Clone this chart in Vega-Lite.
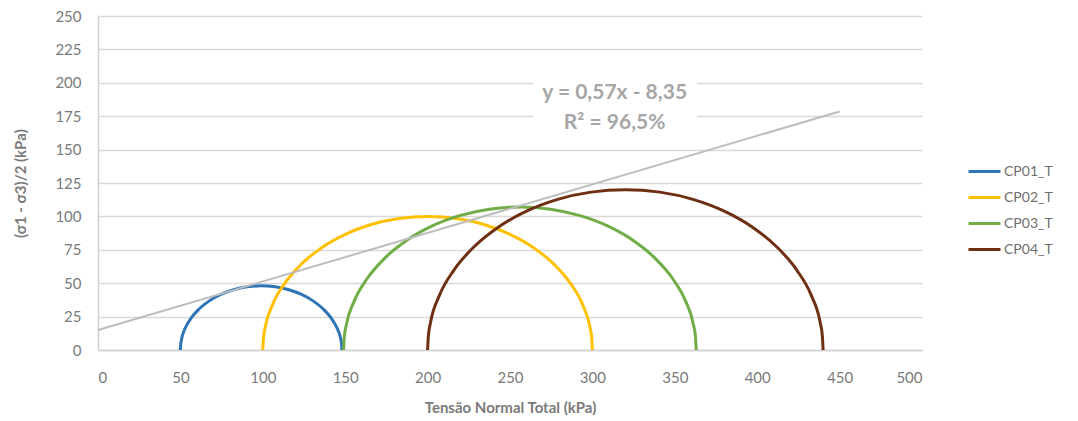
{
  "$schema": "https://vega.github.io/schema/vega-lite/v6.json",
  "width": 824,
  "height": 334,
  "autosize": {"type": "none"},
  "padding": {"left": 98, "top": 16, "right": 156, "bottom": 71},
  "background": "white",
  "config": {
    "view": {"stroke": null},
    "font": "Lato",
    "axis": {
      "gridColor": "#D9D9D9",
      "gridWidth": 1.5,
      "domainColor": "#D0D0D0",
      "domainWidth": 1.5,
      "ticks": false,
      "labelColor": "#7A7A7A",
      "labelFontSize": 15,
      "labelFont": "Lato",
      "titleColor": "#7A7A7A",
      "titleFontSize": 15,
      "titleFont": "Lato",
      "titleFontWeight": "bold"
    }
  },
  "datasets": {
    "circles": [
      {"serie": "CP01_T", "i": 0, "x": 50, "y": 0},
      {"serie": "CP01_T", "i": 1, "x": 50.19, "y": 4.19},
      {"serie": "CP01_T", "i": 2, "x": 50.74, "y": 8.33},
      {"serie": "CP01_T", "i": 3, "x": 52.95, "y": 16.42},
      {"serie": "CP01_T", "i": 4, "x": 56.57, "y": 24},
      {"serie": "CP01_T", "i": 5, "x": 61.47, "y": 30.85},
      {"serie": "CP01_T", "i": 6, "x": 67.5, "y": 36.77},
      {"serie": "CP01_T", "i": 7, "x": 74.5, "y": 41.57},
      {"serie": "CP01_T", "i": 8, "x": 82.24, "y": 45.11},
      {"serie": "CP01_T", "i": 9, "x": 90.49, "y": 47.27},
      {"serie": "CP01_T", "i": 10, "x": 99, "y": 48},
      {"serie": "CP01_T", "i": 11, "x": 107.51, "y": 47.27},
      {"serie": "CP01_T", "i": 12, "x": 115.76, "y": 45.11},
      {"serie": "CP01_T", "i": 13, "x": 123.5, "y": 41.57},
      {"serie": "CP01_T", "i": 14, "x": 130.5, "y": 36.77},
      {"serie": "CP01_T", "i": 15, "x": 136.53, "y": 30.85},
      {"serie": "CP01_T", "i": 16, "x": 141.43, "y": 24},
      {"serie": "CP01_T", "i": 17, "x": 145.05, "y": 16.42},
      {"serie": "CP01_T", "i": 18, "x": 147.26, "y": 8.33},
      {"serie": "CP01_T", "i": 19, "x": 147.81, "y": 4.19},
      {"serie": "CP01_T", "i": 20, "x": 148, "y": 0},

      {"serie": "CP02_T", "i": 0, "x": 100, "y": 0},
      {"serie": "CP02_T", "i": 1, "x": 100.38, "y": 8.72},
      {"serie": "CP02_T", "i": 2, "x": 101.52, "y": 17.36},
      {"serie": "CP02_T", "i": 3, "x": 106.03, "y": 34.2},
      {"serie": "CP02_T", "i": 4, "x": 113.4, "y": 50},
      {"serie": "CP02_T", "i": 5, "x": 123.4, "y": 64.28},
      {"serie": "CP02_T", "i": 6, "x": 135.72, "y": 76.6},
      {"serie": "CP02_T", "i": 7, "x": 150, "y": 86.6},
      {"serie": "CP02_T", "i": 8, "x": 165.8, "y": 93.97},
      {"serie": "CP02_T", "i": 9, "x": 182.64, "y": 98.48},
      {"serie": "CP02_T", "i": 10, "x": 200, "y": 100},
      {"serie": "CP02_T", "i": 11, "x": 217.36, "y": 98.48},
      {"serie": "CP02_T", "i": 12, "x": 234.2, "y": 93.97},
      {"serie": "CP02_T", "i": 13, "x": 250, "y": 86.6},
      {"serie": "CP02_T", "i": 14, "x": 264.28, "y": 76.6},
      {"serie": "CP02_T", "i": 15, "x": 276.6, "y": 64.28},
      {"serie": "CP02_T", "i": 16, "x": 286.6, "y": 50},
      {"serie": "CP02_T", "i": 17, "x": 293.97, "y": 34.2},
      {"serie": "CP02_T", "i": 18, "x": 298.48, "y": 17.36},
      {"serie": "CP02_T", "i": 19, "x": 299.62, "y": 8.72},
      {"serie": "CP02_T", "i": 20, "x": 300, "y": 0},

      {"serie": "CP03_T", "i": 0, "x": 149, "y": 0},
      {"serie": "CP03_T", "i": 1, "x": 149.41, "y": 9.33},
      {"serie": "CP03_T", "i": 2, "x": 150.63, "y": 18.58},
      {"serie": "CP03_T", "i": 3, "x": 155.45, "y": 36.59},
      {"serie": "CP03_T", "i": 4, "x": 163.34, "y": 53.5},
      {"serie": "CP03_T", "i": 5, "x": 174.04, "y": 68.78},
      {"serie": "CP03_T", "i": 6, "x": 187.22, "y": 81.96},
      {"serie": "CP03_T", "i": 7, "x": 202.5, "y": 92.66},
      {"serie": "CP03_T", "i": 8, "x": 219.41, "y": 100.55},
      {"serie": "CP03_T", "i": 9, "x": 237.42, "y": 105.37},
      {"serie": "CP03_T", "i": 10, "x": 256, "y": 107},
      {"serie": "CP03_T", "i": 11, "x": 274.58, "y": 105.37},
      {"serie": "CP03_T", "i": 12, "x": 292.59, "y": 100.55},
      {"serie": "CP03_T", "i": 13, "x": 309.5, "y": 92.66},
      {"serie": "CP03_T", "i": 14, "x": 324.78, "y": 81.96},
      {"serie": "CP03_T", "i": 15, "x": 337.96, "y": 68.78},
      {"serie": "CP03_T", "i": 16, "x": 348.66, "y": 53.5},
      {"serie": "CP03_T", "i": 17, "x": 356.55, "y": 36.59},
      {"serie": "CP03_T", "i": 18, "x": 361.37, "y": 18.58},
      {"serie": "CP03_T", "i": 19, "x": 362.59, "y": 9.33},
      {"serie": "CP03_T", "i": 20, "x": 363, "y": 0},

      {"serie": "CP04_T", "i": 0, "x": 200, "y": 0},
      {"serie": "CP04_T", "i": 1, "x": 200.46, "y": 10.46},
      {"serie": "CP04_T", "i": 2, "x": 201.82, "y": 20.84},
      {"serie": "CP04_T", "i": 3, "x": 207.24, "y": 41.04},
      {"serie": "CP04_T", "i": 4, "x": 216.08, "y": 60},
      {"serie": "CP04_T", "i": 5, "x": 228.08, "y": 77.14},
      {"serie": "CP04_T", "i": 6, "x": 242.86, "y": 91.92},
      {"serie": "CP04_T", "i": 7, "x": 260, "y": 103.92},
      {"serie": "CP04_T", "i": 8, "x": 278.96, "y": 112.76},
      {"serie": "CP04_T", "i": 9, "x": 299.16, "y": 118.18},
      {"serie": "CP04_T", "i": 10, "x": 320, "y": 120},
      {"serie": "CP04_T", "i": 11, "x": 340.84, "y": 118.18},
      {"serie": "CP04_T", "i": 12, "x": 361.04, "y": 112.76},
      {"serie": "CP04_T", "i": 13, "x": 380, "y": 103.92},
      {"serie": "CP04_T", "i": 14, "x": 397.14, "y": 91.92},
      {"serie": "CP04_T", "i": 15, "x": 411.92, "y": 77.14},
      {"serie": "CP04_T", "i": 16, "x": 423.92, "y": 60},
      {"serie": "CP04_T", "i": 17, "x": 432.76, "y": 41.04},
      {"serie": "CP04_T", "i": 18, "x": 438.18, "y": 20.84},
      {"serie": "CP04_T", "i": 19, "x": 439.54, "y": 10.46},
      {"serie": "CP04_T", "i": 20, "x": 440, "y": 0}
    ],
    "trend": [
      {"x": 0, "y": 15},
      {"x": 450, "y": 178.5}
    ],
    "labelbox": [
      {"x": 264, "x2": 363.5, "y": 156, "y2": 205}
    ],
    "labels": [
      {"x": 313.5, "y": 192.5, "text": "y = 0,57x - 8,35"},
      {"x": 313.5, "y": 170, "text": "R² = 96,5%"}
    ]
  },
  "encoding": {
    "x": {
      "field": "x", "type": "quantitative",
      "scale": {"domain": [0, 500], "nice": false},
      "axis": {
        "title": "Tensão Normal Total (kPa)",
        "values": [0, 50, 100, 150, 200, 250, 300, 350, 400, 450, 500],
        "grid": false,
        "labelPadding": 20,
        "titlePadding": 15
      }
    },
    "y": {
      "field": "y", "type": "quantitative",
      "scale": {"domain": [0, 250], "nice": false},
      "axis": {
        "title": "(σ1 - σ3)/2 (kPa)",
        "values": [0, 25, 50, 75, 100, 125, 150, 175, 200, 225, 250],
        "grid": true,
        "labelPadding": 17,
        "titlePadding": 26
      }
    }
  },
  "layer": [
    {
      "data": {"name": "labelbox"},
      "mark": {"type": "rect", "color": "white"},
      "encoding": {
        "x2": {"field": "x2"},
        "y2": {"field": "y2"}
      }
    },
    {
      "data": {"name": "circles"},
      "mark": {"type": "line", "strokeWidth": 3, "interpolate": "monotone"},
      "encoding": {
        "order": {"field": "i", "type": "quantitative"},
        "color": {
          "field": "serie", "type": "nominal",
          "scale": {
            "domain": ["CP01_T", "CP02_T", "CP03_T", "CP04_T"],
            "range": ["#2E75B6", "#FFC000", "#70AD47", "#6E2F12"]
          },
          "legend": {
            "title": null,
            "orient": "none",
            "legendX": 869,
            "legendY": 138,
            "symbolType": "stroke",
            "symbolSize": 1024,
            "symbolStrokeWidth": 3,
            "rowPadding": 1,
            "labelFontSize": 14,
            "labelColor": "#6E6E6E",
            "labelFont": "Lato",
            "labelOffset": 2
          }
        }
      }
    },
    {
      "data": {"name": "trend"},
      "mark": {"type": "line", "color": "#BDBDBD", "strokeWidth": 2},
      "encoding": {}
    },
    {
      "data": {"name": "labels"},
      "mark": {"type": "text", "fontSize": 21, "fontWeight": "bold", "color": "#A6A6A6", "font": "Lato", "align": "center", "baseline": "middle"},
      "encoding": {
        "text": {"field": "text"}
      }
    }
  ]
}
